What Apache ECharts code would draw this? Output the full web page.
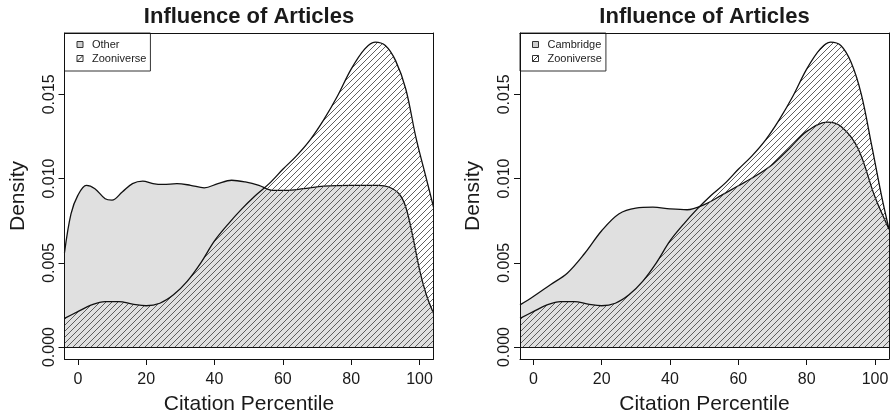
<!DOCTYPE html>
<html>
<head>
<meta charset="utf-8">
<script src="https://cdn.jsdelivr.net/npm/echarts@6/dist/echarts.min.js"></script>
<style>html,body{margin:0;padding:0;background:#fff}#c{width:893px;height:420px}</style>
</head>
<body>
<div id="c"></div>
<script>
// ---- data ----
const xTicks = [0, 20, 40, 60, 80, 100];
const yTicks = [0, 0.005, 0.010, 0.015];

const otherX = [-3.9, -2, 0, 2.5, 5, 8, 10, 13, 16, 19, 22, 25, 29, 33, 37, 41, 45, 49, 53, 57, 61, 66, 72, 80, 88, 91, 94, 96, 98, 100, 102, 104.1];
const otherY = [0.0056, 0.0079, 0.0090, 0.0096, 0.0094, 0.0088, 0.00872, 0.0092, 0.0097, 0.00985, 0.0097, 0.00965, 0.0097, 0.0096, 0.00945, 0.0097, 0.0099, 0.0098, 0.0096, 0.0093, 0.0093, 0.0094, 0.00955, 0.0096, 0.0096, 0.0095, 0.0091, 0.0083, 0.0066, 0.0046, 0.0031, 0.0020];

const zooLX = [-3.9, 0, 4, 8, 12, 16, 20, 24, 28, 32, 36, 40, 44, 48, 52, 56, 60, 64, 68, 72, 76, 80, 84, 87, 90, 93, 96, 99, 102, 104.1];
const zooLY = [0.0017, 0.0021, 0.0025, 0.0027, 0.0027, 0.00255, 0.00245, 0.0026, 0.0031, 0.0039, 0.0050, 0.0063, 0.0073, 0.0082, 0.0090, 0.0097, 0.01055, 0.01135, 0.0123, 0.0135, 0.0149, 0.0165, 0.0177, 0.0181, 0.0179, 0.0170, 0.0153, 0.0124, 0.0100, 0.0083];

const cambX = [-3.9, 0, 5, 10, 15, 20, 25, 30, 35, 40, 45, 50, 55, 60, 65, 70, 75, 80, 86, 90, 95, 100, 104.1];
const cambY = [0.0025, 0.0030, 0.0037, 0.0044, 0.00555, 0.0069, 0.0079, 0.00825, 0.0083, 0.0082, 0.00815, 0.00845, 0.0090, 0.00957, 0.01015, 0.01084, 0.0118, 0.0128, 0.01335, 0.0131, 0.0118, 0.0089, 0.0070];

const zooRX = [-3.9, 0, 4, 8, 12, 16, 20, 24, 28, 32, 36, 40, 44, 48, 52, 56, 60, 64, 68, 72, 76, 80, 84, 87, 90, 93, 96, 99, 102, 104.1];
const zooRY = [0.0017, 0.0021, 0.0025, 0.0027, 0.0027, 0.00255, 0.00245, 0.0026, 0.0031, 0.0039, 0.0050, 0.0063, 0.0073, 0.0082, 0.0090, 0.0097, 0.01055, 0.01135, 0.0123, 0.0135, 0.0149, 0.0165, 0.0177, 0.0181, 0.0179, 0.0169, 0.0150, 0.0120, 0.0089, 0.0070];

const titleText = 'Influence of Articles';
const xName = 'Citation Percentile';
const yName = 'Density';

// ---- helpers ----
const FONT = '"Liberation Sans", Arial, Helvetica, sans-serif';
const TXT = '#1a1a1a';
const GREY = '#e0e0e0';
const pairs = (xs, ys) => xs.map((x, i) => [x, ys[i]]);

function hatchCanvas() {
  const c = document.createElement('canvas');
  c.width = 6; c.height = 6;
  const g = c.getContext('2d');
  g.strokeStyle = '#454545';
  g.lineWidth = 0.85;
  g.beginPath();
  g.moveTo(-1, 7); g.lineTo(7, -1);
  g.moveTo(-1, 1); g.lineTo(1, -1);
  g.moveTo(5, 7); g.lineTo(7, 5);
  g.stroke();
  return c;
}
const hatch = hatchCanvas();

const XMIN = -3.9, XMAX = 104.1, YMIN = -0.00071, YMAX = 0.01864;
const grids = [
  { left: 64.5, top: 33, width: 369, height: 329 },
  { left: 520, top: 33, width: 369, height: 329 }
];

const xAxes = [], yAxes = [];
grids.forEach((g, i) => {
  xAxes.push({
    type: 'value', gridIndex: i, min: XMIN, max: XMAX, position: 'bottom', z: 10,
    name: xName, nameLocation: 'middle', nameGap: 35,
    nameTextStyle: { fontSize: 21, color: TXT, fontFamily: FONT },
    axisLine: { show: true, onZero: false, lineStyle: { color: '#111', width: 1 } },
    axisTick: { show: true, customValues: xTicks, length: 6, lineStyle: { color: '#111' } },
    axisLabel: { customValues: xTicks, fontSize: 16, color: TXT, fontFamily: FONT, margin: 13 },
    splitLine: { show: false }
  });
  xAxes.push({
    type: 'value', gridIndex: i, min: XMIN, max: XMAX, position: 'top', z: 10,
    axisLine: { show: true, onZero: false, lineStyle: { color: '#111', width: 1 } },
    axisTick: { show: false }, axisLabel: { show: false }, splitLine: { show: false }
  });
  yAxes.push({
    type: 'value', gridIndex: i, min: YMIN, max: YMAX, position: 'left', z: 10,
    name: yName, nameLocation: 'middle', nameGap: 36,
    nameTextStyle: { fontSize: 21, color: TXT, fontFamily: FONT },
    axisLine: { show: true, onZero: false, lineStyle: { color: '#111', width: 1 } },
    axisTick: { show: true, customValues: yTicks, length: 6, lineStyle: { color: '#111' } },
    axisLabel: { customValues: yTicks, rotate: 90, fontSize: 16, color: TXT, fontFamily: FONT, margin: 7,
      formatter: v => v.toFixed(3) },
    splitLine: { show: false }
  });
  yAxes.push({
    type: 'value', gridIndex: i, min: YMIN, max: YMAX, position: 'right', z: 10,
    axisLine: { show: true, onZero: false, lineStyle: { color: '#111', width: 1 } },
    axisTick: { show: false }, axisLabel: { show: false }, splitLine: { show: false }
  });
});

function greySeries(name, data, idx) {
  return {
    type: 'line', name, data, xAxisIndex: idx * 2, yAxisIndex: idx * 2,
    smooth: 0.35, showSymbol: false, z: 2, silent: true,
    lineStyle: { color: '#111', width: 1.3 },
    areaStyle: { color: GREY, opacity: 1 },
    markLine: {
      silent: true, symbol: 'none', label: { show: false },
      lineStyle: { color: '#111', type: 'solid', width: 1 },
      data: [{ yAxis: 0 }]
    }
  };
}
function hatchSeries(name, data, idx) {
  return {
    type: 'line', name, data, xAxisIndex: idx * 2, yAxisIndex: idx * 2,
    smooth: 0.35, showSymbol: false, z: 3, silent: true,
    lineStyle: { color: '#111', width: 1.3 },
    areaStyle: { color: { image: hatch, repeat: 'repeat' }, opacity: 1 }
  };
}

const greyIcon = { icon: 'rect', itemStyle: { color: '#cfcfcf', borderColor: '#333', borderWidth: 1 } };
const hatchIcon = { icon: 'path://M0,0L10,0L10,10L0,10Z M0,10L10,0', itemStyle: { color: '#fff', borderColor: '#333', borderWidth: 1 } };

function legendFor(i, firstName) {
  return {
    left: grids[i].left, top: grids[i].top, orient: 'vertical',
    itemWidth: 6, itemHeight: 6, itemGap: 3,
    padding: [6, 4, 7, 12],
    borderColor: '#333', borderWidth: 1, backgroundColor: '#fff',
    selectedMode: false,
    textStyle: { fontSize: 11, color: '#222', fontFamily: FONT, padding: [0, 0, 0, 4], lineHeight: 11 },
    data: [Object.assign({ name: firstName }, greyIcon), Object.assign({ name: 'Zooniverse' }, hatchIcon)]
  };
}

const option = {
  animation: false,
  backgroundColor: '#fff',
  title: grids.map(g => ({
    text: titleText, left: g.left + g.width / 2, top: 6, textAlign: 'center', padding: 0,
    textStyle: { fontSize: 22, fontWeight: 'bold', color: TXT, fontFamily: FONT }
  })),
  legend: [legendFor(0, 'Other'), legendFor(1, 'Cambridge')],
  grid: grids.map(g => Object.assign({ show: false }, g)),
  xAxis: xAxes,
  yAxis: yAxes,
  series: [
    greySeries('Other', pairs(otherX, otherY), 0),
    hatchSeries('Zooniverse', pairs(zooLX, zooLY), 0),
    greySeries('Cambridge', pairs(cambX, cambY), 1),
    hatchSeries('Zooniverse', pairs(zooRX, zooRY), 1)
  ]
};

const chart = echarts.init(document.getElementById('c'), null, { renderer: 'canvas' });
chart.setOption(option);
</script>
</body>
</html>
